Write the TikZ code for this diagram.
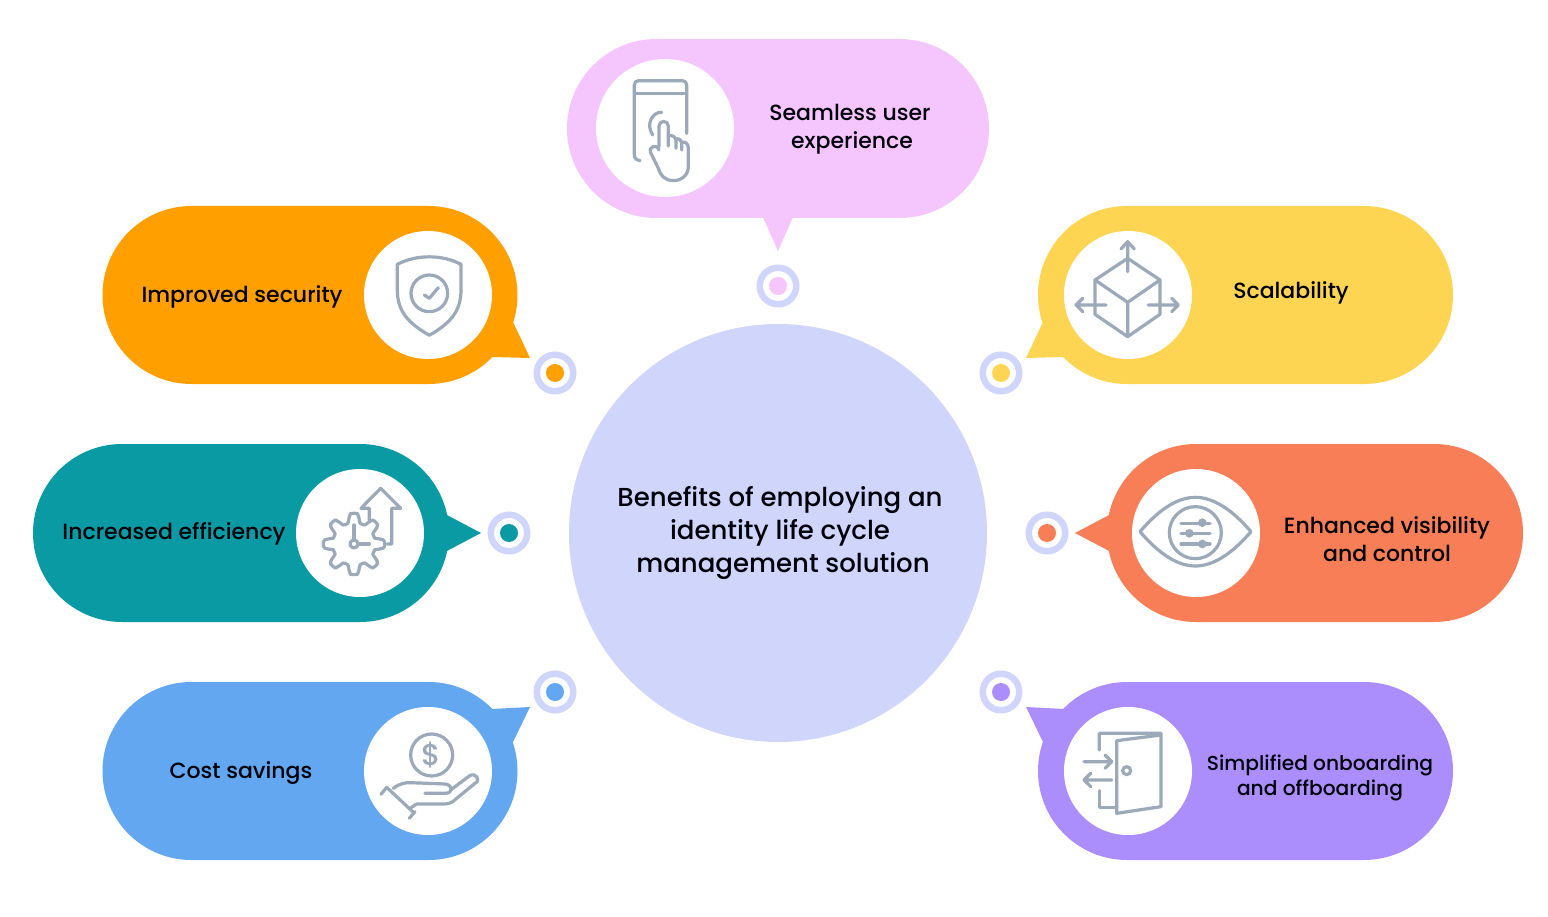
\documentclass[tikz,border=0pt]{standalone}
\usepackage{fontspec}
\setmainfont{Poppins}[UprightFont=* Medium]
\usetikzlibrary{shapes.misc}
\definecolor{hubc}{HTML}{D0D5FC}
\definecolor{pinkc}{HTML}{F5C6FD}
\definecolor{orangec}{HTML}{FF9F00}
\definecolor{yellowc}{HTML}{FDD552}
\definecolor{tealc}{HTML}{0A9AA3}
\definecolor{coralc}{HTML}{F87E57}
\definecolor{bluec}{HTML}{62A7F0}
\definecolor{purplec}{HTML}{AB8DFB}
\definecolor{iconc}{HTML}{9BA9B9}
\definecolor{inkc}{HTML}{000008}
\tikzset{
 pill/.style={rounded rectangle,fill=#1,draw=none,minimum width=415pt,minimum height=178pt,inner sep=0pt,outer sep=0pt},
 disc/.style={circle,fill=white,draw=none,minimum size=128pt,inner sep=0pt,outer sep=0pt},
 ring/.style={circle,draw=hubc,line width=6.5pt,fill=white,minimum size=36.5pt,inner sep=0pt,outer sep=0pt},
 dot/.style={circle,fill=#1,draw=none,minimum size=18pt,inner sep=0pt,outer sep=0pt},
 label/.style={align=center,text=inkc,font=\fontsize{22}{28}\selectfont,inner sep=0pt},
 icon/.style={draw=iconc,line width=3.2pt,line cap=round,line join=round,x=0.3333pt,y=-0.3333pt},
}
\begin{document}
\begin{tikzpicture}[x=1pt,y=-1pt]
\useasboundingbox[fill=white] (0,0) rectangle (1548,917);
% hub
\node[circle,fill=hubc,minimum size=418pt,inner sep=0pt,outer sep=0pt] (hub) at (778,533) {};
\node[align=center,text=inkc,font=\fontsize{26}{33}\selectfont,inner sep=0pt] (hubt) at (780,533) {Benefits of employing an\\identity life cycle\\\hspace*{6pt}management solution};
% bubbles
\fill[pinkc] (762,215) -- (778,251) -- (794,215) -- cycle;
\node[pill=pinkc,minimum width=422pt,minimum height=179pt] (pa) at (778,128.5) {};
\node[disc,minimum size=138pt] (da) at (665,128) {};
\fill[orangec] (505,310) -- (513,322) -- (530,358) -- (492,357) -- (480,345) -- cycle;
\node[pill=orangec] (pb) at (310,295) {};
\node[disc] (db) at (428,295) {};
\fill[yellowc] (1051,310) -- (1043,322) -- (1026,358) -- (1064,357) -- (1076,345) -- cycle;
\node[pill=yellowc] (pc) at (1245.5,295) {};
\node[disc] (dc) at (1128,295) {};
\fill[tealc] (440,512) -- (445,514) -- (481,533) -- (445,552) -- (440,554) -- cycle;
\node[pill=tealc,minimum width=416pt] (pd) at (241,533) {};
\node[disc] (dd) at (360,533) {};
\fill[coralc] (1116,512) -- (1111,514) -- (1075,533) -- (1111,552) -- (1116,554) -- cycle;
\node[pill=coralc,minimum width=416pt] (pe) at (1315,533) {};
\node[disc] (de) at (1196,533) {};
\fill[bluec] (505,756) -- (513,742) -- (530,707) -- (492,709) -- (480,720) -- cycle;
\node[pill=bluec] (pf) at (310,771) {};
\node[disc] (df) at (428,771) {};
\fill[purplec] (1051,756) -- (1043,742) -- (1026,707) -- (1064,709) -- (1076,720) -- cycle;
\node[pill=purplec] (pg) at (1245.5,771) {};
\node[disc] (dg) at (1128,771) {};
% rings
\foreach \n/\px/\py/\c in {ra/778/286/pinkc,rb/555/373/orangec,rc/1001/373/yellowc,rd/509/533/tealc,re/1047/533/coralc,rf/555/692/bluec,rg/1001/692/purplec}{
 \node[ring] (\n) at (\px,\py) {};
 \node[dot=\c] (\n d) at (\px,\py) {};
}
% labels
\node[label] (ta) at (850,129) {Seamless user\\\hspace*{4pt}experience};
\node[label] (tb) at (242,297) {Improved security};
\node[label] (tc) at (1291,293) {Scalability};
\node[label] (td) at (174,534) {Increased efficiency};
\node[label] (te) at (1387,539) {Enhanced visibility\\and control};
\node[label] (tf) at (241,773) {Cost savings};
\node[label,font=\fontsize{20.2}{25}\selectfont] (tg) at (1320,778) {Simplified onboarding\\and offboarding};
% icon: phone
\begin{scope}[shift={(590,50)},icon]
\draw (150,332) .. controls (140,330) and (133,325) .. (133,315) -- (133,105) .. controls (133,97) and (138,92) .. (146,92) -- (277,92) .. controls (285,92) and (290,97) .. (290,105) -- (290,250);
\draw (133,130) -- (290,130);
\draw (215,187) .. controls (190,185) and (165,220) .. (188,255);
\draw (207,290) -- (207,228) .. controls (207,210) and (235,210) .. (235,228) -- (235,288);
\draw (235,258) .. controls (245,252) and (258,262) .. (258,272) -- (258,295);
\draw (258,268) .. controls (265,262) and (275,272) .. (275,280) -- (275,300);
\draw (275,278) .. controls (285,272) and (295,282) .. (295,292) -- (295,350) .. controls (295,375) and (275,392) .. (250,392) .. controls (225,392) and (210,375) .. (205,355) -- (182,308) .. controls (175,290) and (200,280) .. (207,300);
\end{scope}
% icon: shield
\begin{scope}[shift={(360,225)},icon]
\draw (112,118) .. controls (170,88) and (246,88) .. (303,118) -- (303,195) .. controls (303,260) and (270,295) .. (208,331) .. controls (146,295) and (112,260) .. (112,195) -- cycle;
\draw (208,205) circle[radius=55];
\draw (193,210) -- (208,220) -- (235,188);
\end{scope}
% icon: cube
\begin{scope}[shift={(1060,225)},icon]
\draw (203,100) -- (300,165) -- (300,268) -- (203,335) -- (105,268) -- (105,165) -- cycle;
\draw (105,165) -- (203,232) -- (300,165) (203,232) -- (203,335);
\draw (203,140) -- (203,50) (183,72) -- (203,50) -- (223,72);
\draw (138,240) -- (48,240) (68,220) -- (48,240) -- (68,260);
\draw (265,240) -- (355,240) (335,220) -- (355,240) -- (335,260);
\end{scope}
% icon: gear
\begin{scope}[shift={(290,465)},icon]
\draw plot[smooth cycle,domain=0:356,samples=90] ({192+(78+14*max(min(1.7*cos(8*\x),1),-1))*cos(\x)},{237+(78+14*max(min(1.7*cos(8*\x),1),-1))*sin(\x)});
\draw (192,237) circle[radius=12];
\draw (192,225) -- (192,180) (204,237) -- (238,237);
\draw (238,165) -- (238,130) -- (213,130) -- (272,70) -- (332,130) -- (305,130) -- (305,237) -- (292,237);
\end{scope}
% icon: eye
\begin{scope}[shift={(1125,465)},icon]
\draw (45,200) .. controls (105,130) and (160,97) .. (211,97) .. controls (262,97) and (318,130) .. (378,200) .. controls (318,270) and (262,303) .. (211,303) .. controls (160,303) and (105,270) .. (45,200) -- cycle;
\draw (211,203) circle[radius=78];
\draw (168,175) -- (255,175) (168,205) -- (255,205) (168,237) -- (255,237);
\fill[iconc] (232,173) circle[radius=13] (193,205) circle[radius=13] (232,237) circle[radius=13];
\end{scope}
% icon: coin and hand
\begin{scope}[shift={(360,700)},icon]
\draw (215,165) circle[radius=63];
\node[text=iconc,font=\fontsize{30}{30}\selectfont,inner sep=0pt] (dollar) at (215,165) {\$};
\draw (63,283) -- (80,262) -- (158,335) (148,355) -- (165,335);
\draw (100,265) .. controls (120,250) and (135,248) .. (150,248) -- (255,252) .. controls (280,255) and (280,280) .. (255,280) -- (195,280);
\draw (272,270) -- (328,228) .. controls (345,215) and (365,240) .. (345,250) -- (290,295) .. controls (275,310) and (265,312) .. (250,312) -- (170,312) -- (150,325);
\end{scope}
% icon: door
\begin{scope}[shift={(1060,700)},icon]
\draw (118,150) -- (118,100) -- (303,100) -- (303,320) -- (170,340) -- (170,122) -- (303,105);
\draw (118,272) -- (118,322) -- (170,322);
\draw (200,212) circle[radius=12];
\draw (72,185) -- (155,185) (135,165) -- (155,185) -- (135,205);
\draw (155,240) -- (72,240) (92,220) -- (72,240) -- (92,260);
\end{scope}
\end{tikzpicture}
\end{document}
